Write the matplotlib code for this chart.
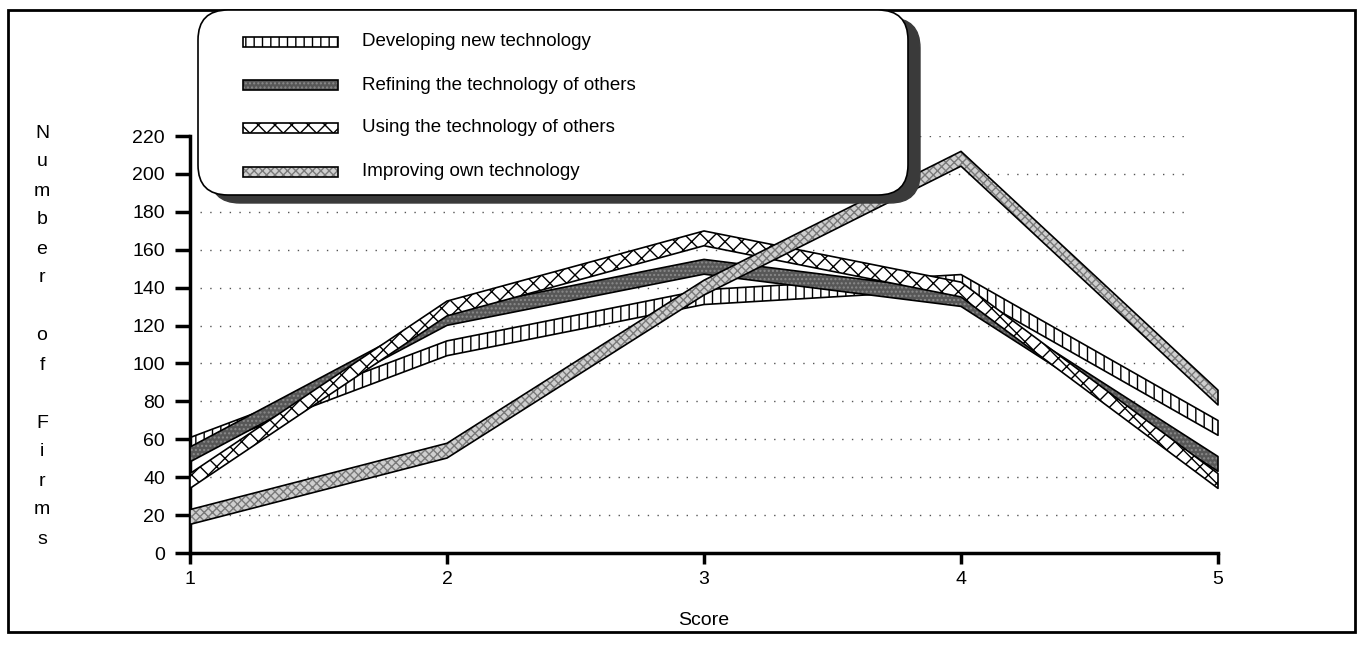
import numpy as np
import matplotlib
matplotlib.use('Agg')
import matplotlib.pyplot as plt
from matplotlib.patches import Rectangle, FancyBboxPatch
from matplotlib.transforms import Affine2D

plt.rcParams['font.family'] = ['Liberation Sans', 'DejaVu Sans']
plt.rcParams['hatch.linewidth'] = 1.0

# Data
scores = [1, 2, 3, 4, 5]
developing = [57, 108, 135, 143, 66]
refining = [52, 124, 151, 134, 47]
using = [38, 129, 166, 139, 38]
improving = [19, 54, 140, 208, 82]

series_names = ['Developing new technology',
                'Refining the technology of others',
                'Using the technology of others',
                'Improving own technology']
y_ticks = list(range(0, 221, 20))
x_ticks = [1, 2, 3, 4, 5]
y_label = 'Number of Firms'
x_label = 'Score'

# face colour, hatch, hatch colour for each ribbon
styles = [('white', '||', 'black'),
          ('#575757', '....', '#8a8a8a'),
          ('white', 'xx', 'black'),
          ('#cfcfcf', 'xxxx', '#7a7a7a')]

W, H = 1363, 646
fig = plt.figure(figsize=(W / 100, H / 100), dpi=100)
# image pixel coordinates, y measured from the top
pix = Affine2D().scale(1 / W, -1 / H).translate(0, 1) + fig.transFigure

ax = fig.add_axes([190 / W, (H - 553) / H, 1028 / W, 417 / H])
ax.set_xlim(1, 5)
ax.set_ylim(0, 220)


def ribbon(ax, x, y, face, hatch, hcolor, z, half=3.9):
    x = np.asarray(x, float)
    y = np.asarray(y, float)
    ax.fill_between(x, y - half, y + half, facecolor=face, hatch=hatch,
                    edgecolor=hcolor, linewidth=0, zorder=z, clip_on=False)
    ax.fill_between(x, y - half, y + half, facecolor='none',
                    edgecolor='black', linewidth=1.2, zorder=z, clip_on=False)


# dotted grid
ax.hlines(y_ticks[1:], 1.04, 4.89, colors='#555555',
          linestyles=(0, (1, 6)), linewidth=1, zorder=0.5)

for vals, (face, hatch, hcol), z in zip([developing, refining, using, improving],
                                        styles, [2, 3, 4, 5]):
    ribbon(ax, scores, vals, face, hatch, hcol, z)

# axes styling
for side in ['top', 'right']:
    ax.spines[side].set_visible(False)
ax.spines['left'].set_linewidth(2.5)
ax.spines['bottom'].set_linewidth(2.5)
ax.set_yticks(y_ticks)
ax.set_xticks(x_ticks)
ax.tick_params(axis='y', direction='out', length=11, width=2.5, pad=7, labelsize=14)
ax.tick_params(axis='x', direction='out', length=8, width=2.5, pad=5, labelsize=14)
ax.set_xlabel(x_label, fontsize=14, labelpad=17)

# vertical stacked y label, one letter per line
letters = []
for k, word in enumerate(y_label.split()):
    if k:
        letters.append('')
    letters.extend(word)
for i, ch in enumerate(letters):
    if ch:
        fig.text(42, 133 + 29 * i, ch, transform=pix, fontsize=14,
                 ha='center', va='center')

# outer frame
fig.add_artist(Rectangle((8, 10), 1347, 622, transform=pix, fill=False,
                         edgecolor='black', linewidth=2))

# legend box with shadow
fig.add_artist(FancyBboxPatch((210, 18), 710, 185, transform=pix,
                              boxstyle='round,pad=0,rounding_size=30',
                              facecolor='#3a3a3a', edgecolor='#3a3a3a', zorder=3))
fig.add_artist(FancyBboxPatch((198, 10), 710, 185, transform=pix,
                              boxstyle='round,pad=0,rounding_size=30',
                              facecolor='white', edgecolor='black',
                              linewidth=1.2, zorder=4))
rows = [42, 85, 128, 172]
for name, (face, hatch, hcol), yy in zip(series_names, styles, rows):
    fig.add_artist(Rectangle((243, yy - 5), 95, 10, transform=pix, facecolor=face,
                             hatch=hatch, edgecolor=hcol, linewidth=0, zorder=5))
    fig.add_artist(Rectangle((243, yy - 5), 95, 10, transform=pix, fill=False,
                             edgecolor='black', linewidth=1.2, zorder=5))
    fig.text(362, yy, name, transform=pix, fontsize=13.5, va='center', zorder=6)

fig.savefig('out.png', dpi=100)
